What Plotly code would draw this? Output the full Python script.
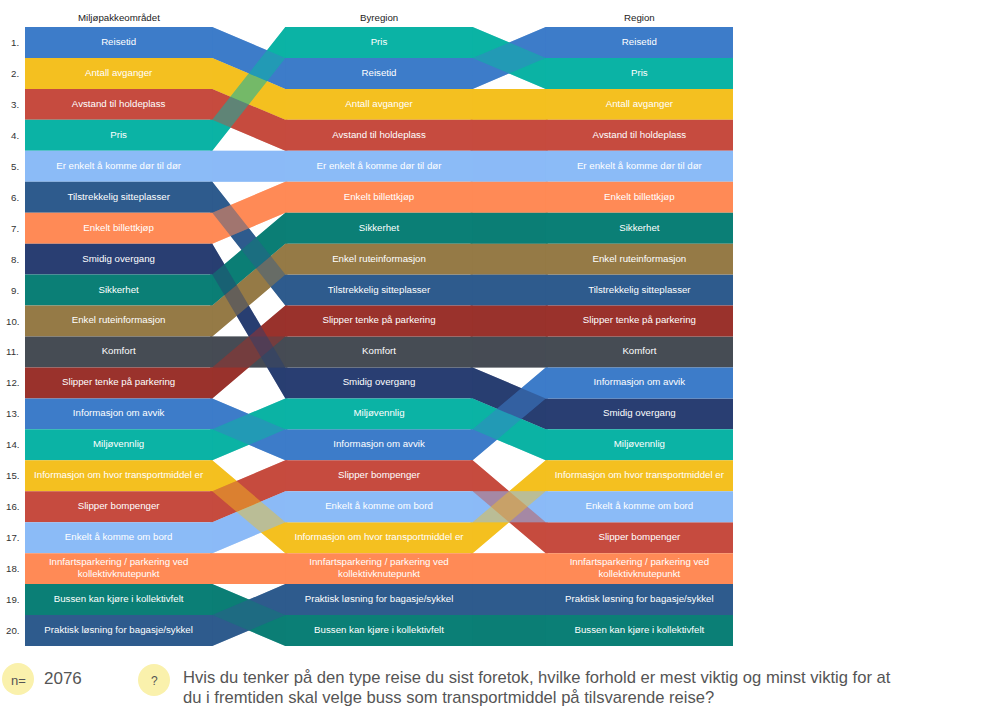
import plotly.graph_objects as go

# ---------------- data ----------------
columns = ["Miljøpakkeområdet", "Byregion", "Region"]
items = [
    "Reisetid", "Antall avganger", "Avstand til holdeplass", "Pris",
    "Er enkelt å komme dør til dør", "Tilstrekkelig sitteplasser",
    "Enkelt billettkjøp", "Smidig overgang", "Sikkerhet",
    "Enkel ruteinformasjon", "Komfort", "Slipper tenke på parkering",
    "Informasjon om avvik", "Miljøvennlig",
    "Informasjon om hvor transportmiddel er", "Slipper bompenger",
    "Enkelt å komme om bord",
    "Innfartsparkering / parkering ved<br>kollektivknutepunkt",
    "Bussen kan kjøre i kollektivfelt", "Praktisk løsning for bagasje/sykkel",
]
rank_miljo = [1, 2, 3, 4, 5, 6, 7, 8, 9, 10, 11, 12, 13, 14, 15, 16, 17, 18, 19, 20]
rank_byregion = [2, 3, 4, 1, 5, 9, 6, 12, 7, 8, 11, 10, 14, 13, 17, 15, 16, 18, 20, 19]
rank_region = [1, 3, 4, 2, 5, 9, 6, 13, 7, 8, 11, 10, 12, 14, 15, 17, 16, 18, 20, 19]
colors = [
    "#3D7CC9", "#F4C020", "#C64B3F", "#0BB3A5", "#8BBBF7", "#2E5B8D",
    "#FF8A56", "#293E72", "#0B7F76", "#957A46", "#464C54", "#9A322C",
    "#3D7CC9", "#0BB3A5", "#F4C020", "#C64B3F", "#8BBBF7", "#FF8A56",
    "#0B7F76", "#2E5B8D",
]
row_labels = [f"{i}." for i in range(1, 21)]
n_value = "2076"
question = ["Hvis du tenker på den type reise du sist foretok, hvilke forhold er mest viktig og minst viktig for at",
            "du i fremtiden skal velge buss som transportmiddel på tilsvarende reise?"]

ranks = [rank_miljo, rank_byregion, rank_region]

# ---------------- layout constants ----------------
W, H = 1001, 712
L, R, T, B = 25, 1001 - 733, 27, 712 - 646
col_w = 187.0
gap = 73.0
ext = 2.0  # overlap of transitions under the flat bars (hides seams)
x_total = 3 * col_w + 2 * gap
nrows = len(items)
FS = 9.7


def col_x0(c):
    return c * (col_w + gap)


def rgba(hexc, a):
    h = hexc.lstrip("#")
    return f"rgba({int(h[0:2],16)},{int(h[2:4],16)},{int(h[4:6],16)},{a})"


def transition_path(i, e):
    tx, ty = [], []
    for c in range(2):
        r0 = ranks[c][i]
        r1 = ranks[c + 1][i]
        xa = col_x0(c) + col_w
        xb = col_x0(c + 1)
        tx += [xa - e, xa, xb, xb + e, xb + e, xb, xa, xa - e, xa - e, None]
        ty += [r0 - 0.5, r0 - 0.5, r1 - 0.5, r1 - 0.5,
               r1 + 0.5, r1 + 0.5, r0 + 0.5, r0 + 0.5, r0 - 0.5, None]
    return tx, ty


fig = go.Figure()

# pass 1: opaque transitions
for i in range(nrows):
    tx, ty = transition_path(i, ext)
    fig.add_trace(go.Scatter(x=tx, y=ty, mode="lines", fill="toself",
                             fillcolor=colors[i], line=dict(width=0),
                             hoverinfo="skip", showlegend=False))
# pass 2: translucent overlay in reverse order -> blended crossings
for i in reversed(range(nrows)):
    tx, ty = transition_path(i, 0)
    fig.add_trace(go.Scatter(x=tx, y=ty, mode="lines", fill="toself",
                             fillcolor=rgba(colors[i], 0.45), line=dict(width=0),
                             hoverinfo="skip", showlegend=False))

# flat bars
for i in range(nrows):
    fx, fy = [], []
    for c in range(3):
        r = ranks[c][i]
        x0 = col_x0(c)
        x1 = x0 + col_w
        fx += [x0, x1, x1, x0, x0, None]
        fy += [r - 0.5, r - 0.5, r + 0.5, r + 0.5, r - 0.5, None]
    fig.add_trace(go.Scatter(x=fx, y=fy, mode="lines", fill="toself",
                             fillcolor=colors[i], line=dict(width=0),
                             hoverinfo="skip", showlegend=False))

# labels inside bars
for c in range(3):
    fig.add_trace(go.Scatter(
        x=[col_x0(c) + col_w / 2] * nrows, y=ranks[c], mode="text",
        text=items, textposition="middle center",
        textfont=dict(color="white", size=FS, family="Arial"),
        hoverinfo="skip", showlegend=False))

annotations = []
for c, name in enumerate(columns):
    annotations.append(dict(x=col_x0(c) + col_w / 2, y=0.5, xref="x", yref="y",
                            text=name, showarrow=False, yanchor="bottom", yshift=2,
                            font=dict(size=FS, color="#222", family="Arial")))
for k, lab in enumerate(row_labels):
    annotations.append(dict(x=0, y=k + 1, xref="x", yref="y", text=lab,
                            showarrow=False, xanchor="right", xshift=-4,
                            font=dict(size=FS, color="#333", family="Arial")))


def px_x(p):
    return (p - L) / (W - L - R)


def px_y(p):
    return 1 - (p - T) / (H - T - B)


shapes = []
for cx, cy in [(18, 679), (154, 680)]:
    rr = 16
    shapes.append(dict(type="circle", xref="paper", yref="paper",
                       x0=px_x(cx - rr), x1=px_x(cx + rr), y0=px_y(cy + rr), y1=px_y(cy - rr),
                       fillcolor="#FAF1AC", line=dict(width=0), layer="below"))

annotations.append(dict(x=px_x(18), y=px_y(680), xref="paper", yref="paper", text="n=",
                        showarrow=False, xanchor="center", yanchor="middle",
                        font=dict(size=13, color="#555", family="Arial")))
annotations.append(dict(x=px_x(154), y=px_y(681), xref="paper", yref="paper", text="?",
                        showarrow=False, xanchor="center", yanchor="middle",
                        font=dict(size=12, color="#555", family="Arial")))
annotations.append(dict(x=px_x(42), y=px_y(678), xref="paper", yref="paper", text=n_value,
                        showarrow=False, xanchor="left", yanchor="middle",
                        font=dict(size=17, color="#555", family="Arial")))
for j, line in enumerate(question):
    annotations.append(dict(x=px_x(181), y=px_y(677 + 20 * j), xref="paper", yref="paper",
                            text=line, showarrow=False, xanchor="left", yanchor="middle",
                            font=dict(size=16.6, color="#555", family="Arial")))

fig.update_layout(
    width=W, height=H,
    margin=dict(l=L, r=R, t=T, b=B, pad=0),
    paper_bgcolor="white", plot_bgcolor="white",
    xaxis=dict(range=[0, x_total], visible=False, fixedrange=True),
    yaxis=dict(range=[nrows + 0.5, 0.5], visible=False, fixedrange=True),
    annotations=annotations, shapes=shapes,
    hovermode=False,
)

fig.write_html("out.html", config={"displayModeBar": False})
